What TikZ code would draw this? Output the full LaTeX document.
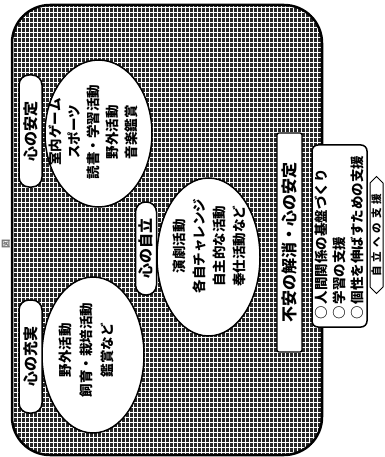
\documentclass[tikz,border=0pt]{standalone}
\usepackage{fontspec}
\newfontfamily\jp{Noto Sans CJK JP}
\usetikzlibrary{shapes.geometric,shapes.symbols}
\begin{document}
\begin{tikzpicture}[x=1pt,y=-1pt,
  bubble/.style={ellipse, draw, line width=1.5pt, fill=white, inner sep=0pt},
  pill/.style={draw, line width=1.5pt, fill=white, rounded corners=10pt, rotate=90, inner sep=0pt,
    font=\jp\bfseries\fontsize{15}{15}\selectfont},
  bubtxt/.style={rotate=90, inner sep=0pt, align=center, font=\jp\bfseries\fontsize{13.5}{#1}\selectfont},
  boxtxt/.style={rotate=90, inner sep=0pt, align=left, font=\jp\bfseries\fontsize{13.5}{18}\selectfont}
]
\useasboundingbox (0,0) rectangle (384,457);
% hatched frame
\begin{scope}
  \clip[rounded corners=38pt] (12,5) rectangle (322,455);
  \fill[black!85] (12,5) rectangle (322,455);
  \foreach \x in {13,17,...,322} \draw[white, line width=0.8pt] (\x,5) -- (\x,455);
  \foreach \y in {7,12,...,455} \draw[white, line width=0.6pt] (12,\y) -- (322,\y);
\end{scope}
\node[draw, line width=2.5pt, rounded corners=38pt, minimum width=310pt, minimum height=450pt, inner sep=0pt] (frame) at (167,230) {};
% small mark at left
\node[rotate=90, inner sep=0pt, text=black!55, font=\jp\bfseries\fontsize{9}{9}\selectfont] (fig) at (6,244) {図};
% bubbles
\node[bubble, minimum width=107pt, minimum height=147pt] (c1) at (98.5,133.5) {};
\node[bubble, minimum width=103pt, minimum height=158pt] (c2) at (208.5,257) {};
\node[bubble, minimum width=102pt, minimum height=156pt] (c3) at (93,355) {};
\node[bubtxt=19pt] (t1) at (93,132) {室内ゲーム\\スポーツ\\読書・学習活動\\野外活動\\音楽鑑賞};
\node[bubtxt=20pt] (t2) at (209,246) {演劇活動\\各自チャレンジ\\自主的な活動\\奉仕活動など};
\node[bubtxt=21pt] (t3) at (86,350) {野外活動\\飼育・栽培活動\\鑑賞など};
% pills
\node[pill, minimum width=112pt, minimum height=23pt] (p1) at (30.5,131) {心の安定};
\node[pill, minimum width=113pt, minimum height=23pt] (p2) at (30.5,356.5) {心の充実};
\node[pill, minimum width=93pt, minimum height=21pt] (p3) at (146,248.5) {心の自立};
% label
\node[draw, line width=1.3pt, fill=white, rounded corners=2pt, rotate=90, inner sep=0pt,
  minimum width=219pt, minimum height=25pt, font=\jp\bfseries\fontsize{16}{16}\selectfont] (lab) at (289.5,242.5) {不安の解消・心の安定};
% box
\node[draw, line width=1.5pt, fill=white, rounded corners=6pt, minimum width=55pt, minimum height=182pt, inner sep=0pt] (box) at (339.5,236) {};
\node[boxtxt, anchor=north west] (bt) at (315,320) {○\hspace{2pt}人間関係の基盤づくり\\○\hspace{2pt}学習の支援\\○\hspace{2pt}個性を伸ばすための支援};
% arrow label
\node[signal, signal to=east and west, draw, line width=1pt, fill=white, rotate=90, inner sep=0pt,
  minimum width=117pt, minimum height=13pt, font=\jp\bfseries\fontsize{10.5}{10.5}\selectfont] (sup) at (376.5,235)
  {自\hspace{4pt}立\hspace{4pt}へ\hspace{4pt}の\hspace{4pt}支\hspace{4pt}援};
\end{tikzpicture}
\end{document}
